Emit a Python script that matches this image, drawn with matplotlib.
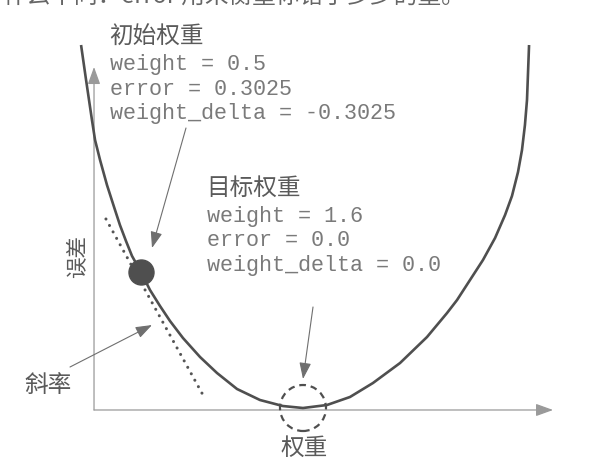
import matplotlib
matplotlib.use("Agg")
import matplotlib.pyplot as plt
from matplotlib.patches import Ellipse

plt.rcParams['font.family'] = ['Noto Sans CJK SC', 'DejaVu Sans']

# ---- data (weight, error) ----
curve_weight = [0.093, 0.127, 0.167, 0.188, 0.222, 0.269, 0.317, 0.357, 0.398, 0.439,
                0.500, 0.561, 0.629, 0.697, 0.785, 0.901, 1.016, 1.152, 1.308, 1.464,
                1.600, 1.763, 1.919, 2.075, 2.259, 2.442, 2.578, 2.646, 2.734, 2.822,
                2.904, 2.972, 3.019, 3.060, 3.087, 3.107, 3.121, 3.135]
curve_error = [0.8074, 0.7296, 0.6406, 0.5961, 0.5516, 0.4960, 0.4471, 0.4070, 0.3715, 0.3381,
               0.3025, 0.2625, 0.2269, 0.1935, 0.1557, 0.1134, 0.0779, 0.0423, 0.0178, 0.0044,
               0.0000, 0.0067, 0.0245, 0.0556, 0.1001, 0.1579, 0.2113, 0.2402, 0.2847, 0.3292,
               0.3781, 0.4293, 0.4716, 0.5249, 0.5739, 0.6295, 0.6851, 0.8074]

start_weight, start_error = 0.5, 0.3025
goal_weight, goal_error = 1.6, 0.0
slope_weight = [0.262, 0.921]
slope_error = [0.4204, 0.0289]

start_lines = ["weight = 0.5", "error = 0.3025", "weight_delta = -0.3025"]
goal_lines = ["weight = 1.6", "error = 0.0", "weight_delta = 0.0"]
top_text = "什么不同：error 用来衡量你错了多少的量。"

W, H = 589, 471
fig = plt.figure(figsize=(W / 100, H / 100), dpi=100)
fig.patch.set_facecolor('white')
ax = fig.add_axes([0, 0, 1, 1])
ax.set_xlim(-0.4574, 3.542)
ax.set_ylim(-0.1401, 0.9075)
ax.axis('off')

def fx(px):
    return px / W

def fy(py):
    return 1 - py / H

# axes with arrowheads
axis_col = '#9a9a9a'
x0, y0 = 0.181, -0.0044
ax.annotate('', xy=(3.298, y0), xytext=(x0, y0),
            arrowprops=dict(arrowstyle='-|>,head_length=1.05,head_width=0.38',
                            color=axis_col, lw=0.9, mutation_scale=10,
                            shrinkA=0, shrinkB=0))
ax.annotate('', xy=(x0, 0.7585), xytext=(x0, y0),
            arrowprops=dict(arrowstyle='-|>,head_length=1.05,head_width=0.38',
                            color=axis_col, lw=0.9, mutation_scale=10,
                            shrinkA=0, shrinkB=0))

# curve
ink = '#4f4f4f'
ax.plot(curve_weight, curve_error, color=ink, lw=1.9, solid_capstyle='butt', zorder=3)

# slope (dotted tangent)
ax.plot(slope_weight, slope_error, color='#555555', lw=2.2,
        linestyle=(0, (0.01, 2.4)), dash_capstyle='round', zorder=2)

# starting point
ax.plot([start_weight], [start_error], 'o', color=ink, markersize=18, zorder=4)

# dashed circle around goal
circ = Ellipse((goal_weight, goal_error), width=2 * 23 / 147.27, height=2 * 23 * 0.0022243,
               fill=False, edgecolor='#4f4f4f', lw=1.6, linestyle=(0, (3, 2.2)), zorder=4)
ax.add_patch(circ)

# pointer arrows
arr_col = '#6f6f6f'
aprops = dict(arrowstyle='-|>,head_length=1.0,head_width=0.36', color=arr_col, lw=0.8,
              mutation_scale=10, shrinkA=0, shrinkB=0)
ax.annotate('', xy=(0.5747, 0.3559), xytext=(0.8055, 0.6228), arrowprops=aprops)
ax.annotate('', xy=(0.5747, 0.1846), xytext=(0.0179, 0.0912), arrowprops=aprops)
ax.annotate('', xy=(1.600, 0.0645), xytext=(1.668, 0.2247), arrowprops=aprops)

# texts
cjk_col = '#5a5a5a'
mono_col = '#7a7a7a'
mono = ['Liberation Mono', 'DejaVu Sans Mono']

fig.text(fx(3), fy(-4), top_text, fontsize=17, color='#666666', va='center', ha='left')

fig.text(fx(109), fy(37.5), "初始权重", fontsize=17, color=cjk_col, va='center', ha='left')
for i, s in enumerate(start_lines):
    fig.text(fx(110), fy(70 + 24.5 * i), s, fontsize=15.7, color=mono_col,
             family=mono, va='baseline', ha='left')

fig.text(fx(206), fy(188.5), "目标权重", fontsize=17, color=cjk_col, va='center', ha='left')
for i, s in enumerate(goal_lines):
    fig.text(fx(207), fy(222 + 24.5 * i), s, fontsize=15.7, color=mono_col,
             family=mono, va='baseline', ha='left')

fig.text(fx(77), fy(256), "误差", fontsize=15.5, color=cjk_col, va='center', ha='center',
         rotation=90)
fig.text(fx(48), fy(385), "斜率", fontsize=17, color=cjk_col, va='center', ha='center')
fig.text(fx(304), fy(448), "权重", fontsize=17, color=cjk_col, va='center', ha='center')

fig.savefig('out.png', dpi=100, facecolor='white')
